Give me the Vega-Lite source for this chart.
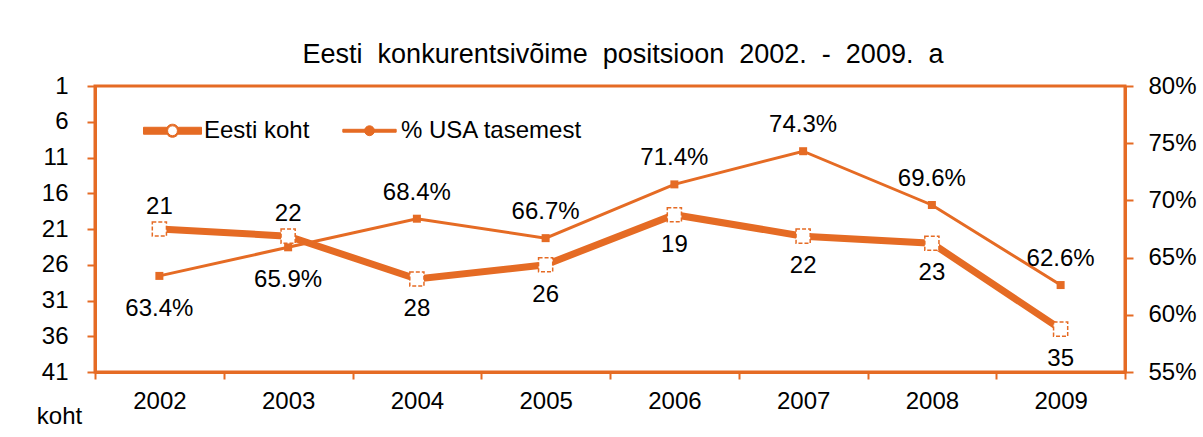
{
  "$schema": "https://vega.github.io/schema/vega-lite/v6.json",
  "width": 1030,
  "height": 286,
  "autosize": "none",
  "padding": {"left": 95, "top": 86, "right": 78, "bottom": 65},
  "background": "white",
  "title": {
    "text": "Eesti\u00a0 konkurentsivõime\u00a0 positsioon\u00a0 2002.\u00a0 -\u00a0 2009.\u00a0 a",
    "font": "Liberation Sans",
    "fontSize": 27,
    "fontWeight": "normal",
    "color": "black",
    "anchor": "middle",
    "dx": 13,
    "offset": 5
  },
  "config": {
    "font": "Liberation Sans",
    "view": {"stroke": "#E56B24", "strokeWidth": 3},
    "axis": {
      "domainColor": "#E56B24",
      "domainWidth": 3,
      "tickColor": "#E56B24",
      "tickWidth": 2,
      "tickSize": 8,
      "labelFont": "Liberation Sans",
      "labelFontSize": 24,
      "labelColor": "black",
      "grid": false
    }
  },
  "data": {
    "values": [
      {"year": "2002", "koht": 21, "usa": 0.634},
      {"year": "2003", "koht": 22, "usa": 0.659},
      {"year": "2004", "koht": 28, "usa": 0.684},
      {"year": "2005", "koht": 26, "usa": 0.667},
      {"year": "2006", "koht": 19, "usa": 0.714},
      {"year": "2007", "koht": 22, "usa": 0.743},
      {"year": "2008", "koht": 23, "usa": 0.696},
      {"year": "2009", "koht": 35, "usa": 0.626}
    ]
  },
  "encoding": {
    "x": {
      "field": "year",
      "type": "ordinal",
      "scale": {"paddingInner": 0, "paddingOuter": 0},
      "axis": {"title": null, "labelAngle": 0, "tickBand": "extent", "labelPadding": 10, "tickSize": 7}
    }
  },
  "layer": [
    {
      "encoding": {
        "y": {
          "field": "usa",
          "type": "quantitative",
          "scale": {"domain": [0.55, 0.8], "nice": false, "zero": false},
          "axis": {
            "orient": "right",
            "title": null,
            "values": [0.55, 0.6, 0.65, 0.7, 0.75, 0.8],
            "format": ".0%",
            "labelPadding": 15
          }
        }
      },
      "layer": [
        {
          "mark": {"type": "line", "strokeWidth": 3},
          "encoding": {
            "color": {
              "datum": "% USA tasemest",
              "type": "nominal",
              "scale": {"domain": ["Eesti koht", "% USA tasemest"], "range": ["#E56B24", "#E56B24"]},
              "legend": {
                "title": null,
                "orient": "none",
                "legendX": 48,
                "legendY": 15,
                "direction": "horizontal",
                "padding": 0,
                "labelFont": "Liberation Sans",
                "labelFontSize": 24,
                "labelColor": "black",
                "labelLimit": 400,
                "labelOffset": 2,
                "columnPadding": 30,
                "symbolSize": 3364,
                "encode": {
                  "symbols": {
                    "update": {
                      "shape": {"signal": "datum.value === 'Eesti koht' ? 'M-1,-0.12H-0.2V0.12H-1Z M0.2,-0.12H1V0.12H0.2Z M0.225,0A0.225,0.225 0 1,1 -0.225,0A0.225,0.225 0 1,1 0.225,0Z M0.17,0A0.17,0.17 0 1,0 -0.17,0A0.17,0.17 0 1,0 0.17,0Z' : 'M-0.92,-0.05H0.92V0.05H-0.92Z M0.17,0A0.17,0.17 0 1,1 -0.17,0A0.17,0.17 0 1,1 0.17,0Z'"},
                      "fill": {"value": "#E56B24"},
                      "stroke": {"value": "#E56B24"},
                      "strokeWidth": {"value": 1},
                      "opacity": {"value": 1}
                    }
                  }
                }
              }
            }
          }
        },
        {
          "mark": {"type": "point", "shape": "square", "size": 64, "filled": true, "color": "#E56B24", "opacity": 1}
        },
        {
          "transform": [{"filter": "datum.year <= '2003'"}],
          "mark": {"type": "text", "dy": 33, "fontSize": 24, "font": "Liberation Sans", "color": "black"},
          "encoding": {"text": {"field": "usa", "type": "quantitative", "format": ".1%"}}
        },
        {
          "transform": [{"filter": "datum.year > '2003'"}],
          "mark": {"type": "text", "dy": -26, "fontSize": 24, "font": "Liberation Sans", "color": "black"},
          "encoding": {"text": {"field": "usa", "type": "quantitative", "format": ".1%"}}
        }
      ]
    },
    {
      "encoding": {
        "y": {
          "field": "koht",
          "type": "quantitative",
          "scale": {"domain": [1, 41], "reverse": true, "nice": false, "zero": false},
          "axis": {
            "orient": "left",
            "values": [1, 6, 11, 16, 21, 26, 31, 36, 41],
            "labelPadding": 19,
            "title": "koht",
            "titleAngle": 0,
            "titleAlign": "center",
            "titleBaseline": "alphabetic",
            "titleX": -36,
            "titleY": 337,
            "titleFont": "Liberation Sans",
            "titleFontSize": 24,
            "titleFontWeight": "normal",
            "titleColor": "black"
          }
        }
      },
      "layer": [
        {
          "mark": {"type": "line", "strokeWidth": 7},
          "encoding": {
            "color": {"datum": "Eesti koht", "type": "nominal"}
          }
        },
        {
          "mark": {"type": "point", "shape": "square", "size": 200, "filled": true, "fill": "white", "stroke": "#E56B24", "strokeWidth": 1.5, "strokeDash": [4, 2], "opacity": 1}
        },
        {
          "transform": [{"filter": "datum.year <= '2003'"}],
          "mark": {"type": "text", "dy": -22, "fontSize": 24, "font": "Liberation Sans", "color": "black"},
          "encoding": {"text": {"field": "koht", "type": "quantitative"}}
        },
        {
          "transform": [{"filter": "datum.year > '2003'"}],
          "mark": {"type": "text", "dy": 30, "fontSize": 24, "font": "Liberation Sans", "color": "black"},
          "encoding": {"text": {"field": "koht", "type": "quantitative"}}
        }
      ]
    }
  ],
  "resolve": {"scale": {"y": "independent"}}
}
